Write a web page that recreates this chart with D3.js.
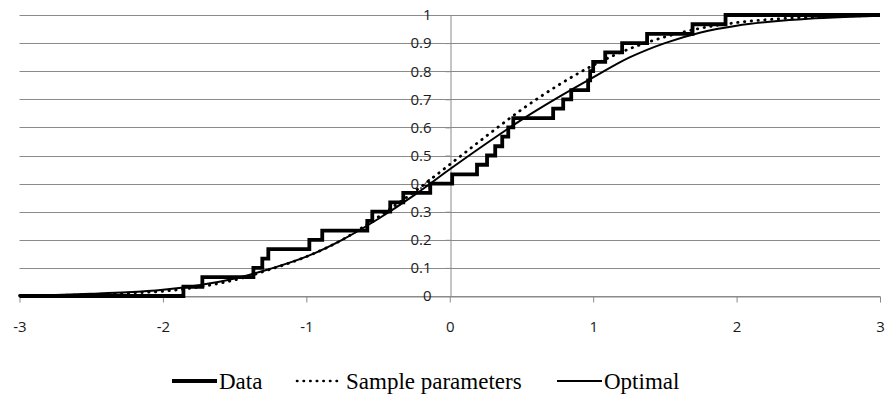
<!DOCTYPE html>
<html>
<head>
<meta charset="utf-8">
<script src="https://cdn.jsdelivr.net/npm/d3@7"></script>
<style>
  html, body { margin: 0; padding: 0; background: #fff; }
  svg { display: block; }
</style>
</head>
<body>
<div id="chart"></div>
<script>
// Empirical CDF of the 30 observations (step after each value)
const dataX = [-3, -1.857, -1.725, -1.369, -1.307, -1.265, -0.979, -0.889, -0.575, -0.54, -0.415,
  -0.324, -0.136, 0.017, 0.19, 0.26, 0.317, 0.366, 0.408, 0.443, 0.721,
  0.791, 0.847, 0.965, 0.979, 1.0, 1.084, 1.202, 1.376, 1.693, 1.923, 3];
const dataP = [0, 0.033, 0.067, 0.1, 0.133, 0.167, 0.2, 0.233, 0.267, 0.3, 0.333,
  0.367, 0.4, 0.433, 0.467, 0.5, 0.533, 0.567, 0.6, 0.633, 0.667,
  0.7, 0.733, 0.767, 0.8, 0.833, 0.867, 0.9, 0.933, 0.967, 1, 1];

// Fitted CDF curves
const curveX = [-3, -2.75, -2.5, -2.25, -2, -1.75, -1.5, -1.25, -1, -0.75, -0.5, -0.25,
  0, 0.25, 0.5, 0.75, 1, 1.25, 1.5, 1.75, 2, 2.25, 2.5, 2.75, 3];
const sampleParamP = [0.001, 0.002, 0.005, 0.01, 0.017, 0.032, 0.057, 0.095, 0.14, 0.2, 0.281, 0.37,
  0.468, 0.567, 0.663, 0.748, 0.821, 0.879, 0.922, 0.953, 0.973, 0.985, 0.992, 0.996, 0.998];
const optimalP = [0.002, 0.004, 0.008, 0.013, 0.022, 0.038, 0.062, 0.097, 0.14, 0.2, 0.274, 0.358,
  0.451, 0.541, 0.627, 0.705, 0.778, 0.848, 0.9, 0.938, 0.962, 0.977, 0.987, 0.993, 0.997];

const xTicks = [-3, -2, -1, 0, 1, 2, 3];
const yTicks = [0, 0.1, 0.2, 0.3, 0.4, 0.5, 0.6, 0.7, 0.8, 0.9, 1];

const legendItems = ["Data", "Sample parameters", "Optimal"];

(function () {
  const W = 888, H = 401;
  const GRID = "#8a8a8a";
  const TEXT = "#1a1a1a";
  const AXIS_FONT = "15px 'Open Sans', sans-serif";
  const LEGEND_FONT = "23px 'Liberation Serif', 'Times New Roman', serif";

  const x = d3.scaleLinear().domain([-3, 3]).range([19.5, 880]);
  const y = d3.scaleLinear().domain([0, 1]).range([296, 15]);

  const svg = d3.select("#chart").append("svg")
    .attr("width", W).attr("height", H)
    .attr("viewBox", `0 0 ${W} ${H}`);

  svg.append("rect").attr("width", W).attr("height", H).attr("fill", "#fff");

  // Horizontal gridlines
  svg.append("g")
    .selectAll("line")
    .data(yTicks)
    .join("line")
    .attr("x1", x(-3)).attr("x2", x(3))
    .attr("y1", (d) => Math.round(y(d)) + 0.5)
    .attr("y2", (d) => Math.round(y(d)) + 0.5)
    .attr("stroke", GRID)
    .attr("stroke-width", 1);

  // X axis (ticks below the zero line)
  const xAxis = svg.append("g")
    .attr("transform", `translate(0,${Math.round(y(0)) + 0.5})`)
    .call(d3.axisBottom(x).tickValues(xTicks).tickSizeInner(6).tickSizeOuter(0).tickPadding(19)
      .tickFormat(d3.format("d")));
  xAxis.select(".domain").attr("stroke", GRID);
  xAxis.selectAll(".tick line").attr("stroke", GRID);
  xAxis.selectAll(".tick text")
    .attr("fill", TEXT)
    .style("font", AXIS_FONT)
    .text((d) => String(d));

  // Y axis at x = 0
  const yAxis = svg.append("g")
    .attr("transform", `translate(${Math.round(x(0)) + 0.5},0)`)
    .call(d3.axisLeft(y).tickValues(yTicks).tickSizeInner(5).tickSizeOuter(0).tickPadding(14)
      .tickFormat((d) => d3.format("~g")(d)));
  yAxis.select(".domain").attr("stroke", GRID);
  yAxis.selectAll(".tick line").attr("stroke", GRID);
  yAxis.selectAll(".tick text").attr("fill", TEXT).style("font", AXIS_FONT);

  const series = svg.append("g");

  // Optimal (thin solid)
  series.append("path")
    .datum(curveX.map((v, i) => [v, optimalP[i]]))
    .attr("fill", "none")
    .attr("stroke", "#000")
    .attr("stroke-width", 2)
    .attr("d", d3.line().x((d) => x(d[0])).y((d) => y(d[1])).curve(d3.curveMonotoneX));

  // Sample parameters (round dots)
  series.append("path")
    .datum(curveX.map((v, i) => [v, sampleParamP[i]]))
    .attr("fill", "none")
    .attr("stroke", "#000")
    .attr("stroke-width", 2.8)
    .attr("stroke-linecap", "round")
    .attr("stroke-dasharray", "0.4,6.4")
    .attr("d", d3.line().x((d) => x(d[0])).y((d) => y(d[1])).curve(d3.curveMonotoneX));

  // Data (thick step line)
  series.append("path")
    .datum(dataX.map((v, i) => [v, dataP[i]]))
    .attr("fill", "none")
    .attr("stroke", "#000")
    .attr("stroke-width", 3.8)
    .attr("stroke-linejoin", "miter")
    .attr("d", d3.line().x((d) => x(d[0])).y((d) => y(d[1])).curve(d3.curveStepAfter));

  // Legend
  const LY = 381;
  const legendStyles = [
    { x0: 172, x1: 217, w: 4, dash: null, cap: "butt", tx: 219 },
    { x0: 297, x1: 343, w: 2.6, dash: "0.4,6.2", cap: "round", tx: 346 },
    { x0: 557, x1: 602, w: 2, dash: null, cap: "butt", tx: 604 }
  ];
  const lg = svg.append("g")
    .selectAll("g")
    .data(legendItems)
    .join("g");
  lg.append("line")
    .attr("x1", (d, i) => legendStyles[i].x0)
    .attr("x2", (d, i) => legendStyles[i].x1)
    .attr("y1", LY).attr("y2", LY)
    .attr("stroke", "#000")
    .attr("stroke-width", (d, i) => legendStyles[i].w)
    .attr("stroke-linecap", (d, i) => legendStyles[i].cap)
    .attr("stroke-dasharray", (d, i) => legendStyles[i].dash);
  lg.append("text")
    .attr("x", (d, i) => legendStyles[i].tx)
    .attr("y", LY)
    .attr("dominant-baseline", "central")
    .attr("fill", "#000")
    .style("font", LEGEND_FONT)
    .text((d) => d);
})();
</script>
</body>
</html>
